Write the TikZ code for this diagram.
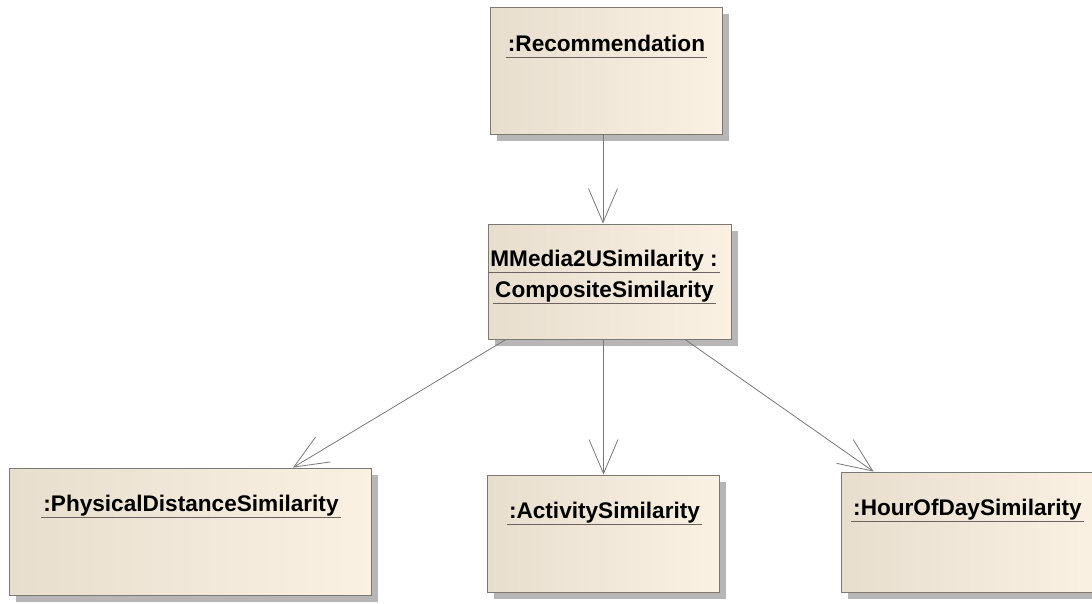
\documentclass[tikz,border=0pt]{standalone}
\usepackage{fontspec}
\setmainfont{Liberation Sans}
\usetikzlibrary{arrows.meta}

\definecolor{boxleft}{RGB}{232,222,206}
\definecolor{boxright}{RGB}{251,241,227}
\definecolor{boxedge}{RGB}{125,120,115}
\definecolor{shadowgray}{RGB}{182,182,182}
\definecolor{linkgray}{RGB}{120,120,120}
\definecolor{ulgray}{RGB}{110,100,95}

\tikzset{
  objbox/.style={draw=boxedge, line width=0.9pt, shading=axis,
    left color=boxleft, right color=boxright, shading angle=90,
    inner sep=0pt},
  boxshadow/.style={fill=shadowgray, draw=none},
  objname/.style={anchor=base, inner xsep=2pt, inner ysep=0pt,
    font=\fontsize{22.6}{26}\selectfont\bfseries, text=black},
  link/.style={draw=linkgray, line width=0.8pt,
    -{Straight Barb[length=34pt,width=29pt,line width=0.8pt]}},
}

\newcommand{\objbox}[6]{% name, left, top, right, bottom
  \fill[boxshadow] (#2+7,#3+7) rectangle (#4+7,#5+7);
  \node[objbox, minimum width={(#4-#2)*1pt}, minimum height={(#5-#3)*1pt}]
    (#1) at ({(#2+#4)/2},{(#3+#5)/2}) {};
}
\newcommand{\ulname}[1]{%
  \draw[ulgray, line width=0.9pt] ([yshift=-6pt]#1.base west) -- ([yshift=-6pt]#1.base east);
}

\begin{document}
\begin{tikzpicture}[x=1pt, y=-1pt]
  \useasboundingbox (0,0) rectangle (1092,603);
  \begin{scope}
  \clip (0,0) rectangle (1092,603);

  % object boxes
  \objbox{rec}{490}{7}{722}{134}{}
  \objbox{comp}{488}{224}{731}{339}{}
  \objbox{phys}{9}{468}{371}{595}{}
  \objbox{act}{487}{475}{719}{592}{}
  \objbox{hour}{841}{472}{1098}{592}{}

  % object names (underlined)
  \node[objname] (recT) at (606.5,51) {:Recommendation};
  \ulname{recT}
  \node[objname] (compT1) at (604,266) {MMedia2USimilarity :};
  \ulname{compT1}
  \node[objname] (compT2) at (604.5,297) {CompositeSimilarity};
  \ulname{compT2}
  \node[objname] (physT) at (191,511) {:PhysicalDistanceSimilarity};
  \ulname{physT}
  \node[objname] (actT) at (604.5,518) {:ActivitySimilarity};
  \ulname{actT}
  \node[objname] (hourT) at (967.5,515) {:HourOfDaySimilarity};
  \ulname{hourT}
  \end{scope}

  % links
  \draw[link] ([xshift=-3pt]rec.south) -- ([xshift=-6.5pt]comp.north);
  \draw[link] ([xshift=-103.5pt]comp.south) -- ([xshift=103pt]phys.north);
  \draw[link] ([xshift=-6pt]comp.south) -- ([xshift=0.5pt]act.north);
  \draw[link] ([xshift=75.5pt]comp.south) -- ([xshift=33pt]hour.north west);
\end{tikzpicture}
\end{document}
